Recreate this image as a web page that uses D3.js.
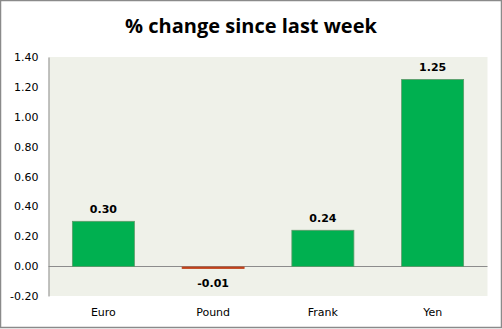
<!DOCTYPE html>
<html>
<head>
<meta charset="utf-8">
<script src="https://cdn.jsdelivr.net/npm/d3@7"></script>
<style>
  html, body { margin: 0; padding: 0; background: #fff; }
  svg { display: block; }
</style>
</head>
<body>
<script>
// Weekly % change per currency
const categories = ["Euro", "Pound", "Frank", "Yen"];
const values = [0.30, -0.01, 0.24, 1.25];
const tickValues = [-0.20, 0.00, 0.20, 0.40, 0.60, 0.80, 1.00, 1.20, 1.40];

const W = 502, H = 329;
const plot = { left: 48.5, right: 487.5, top: 57, bottom: 296 };

// two decimals with a plain hyphen for negatives
const fmt = d => d3.format(".2f")(d).replace("\u2212", "-");

const svg = d3.select("body").append("svg")
  .attr("width", W).attr("height", H);

// outer frame
svg.append("rect")
  .attr("x", 0.5).attr("y", 0.5)
  .attr("width", W - 1).attr("height", H - 2)
  .attr("fill", "#fff").attr("stroke", "#8a8a8a").attr("stroke-width", 1.5);

// title
svg.append("text")
  .attr("x", 251).attr("y", 33)
  .attr("text-anchor", "middle")
  .attr("font-family", "'Open Sans', 'DejaVu Sans', sans-serif")
  .attr("font-weight", "bold")
  .attr("font-size", 20)
  .attr("fill", "#000")
  .text("% change since last week");

const x = d3.scaleBand()
  .domain(categories)
  .range([plot.left, plot.right])
  .paddingInner(0.435)
  .paddingOuter(0.2175);

const y = d3.scaleLinear()
  .domain([-0.20, 1.40])
  .range([plot.bottom, plot.top]);

// plot background
svg.append("rect")
  .attr("x", plot.left).attr("y", plot.top)
  .attr("width", plot.right - plot.left).attr("height", plot.bottom - plot.top)
  .attr("fill", "#eff1e9");

// y axis
const yAxis = d3.axisLeft(y)
  .tickValues(tickValues)
  .tickFormat(fmt)
  .tickSize(0)
  .tickPadding(10);

const gy = svg.append("g")
  .attr("transform", `translate(${plot.left},0)`)
  .call(yAxis);
gy.select(".domain").attr("stroke", "#8c8c8c").attr("stroke-width", 1);
gy.selectAll("text")
  .attr("font-family", "Tahoma, 'DejaVu Sans', sans-serif")
  .attr("font-size", 11)
  .attr("fill", "#000");

// zero line
const y0 = Math.round(y(0)) + 0.5;
svg.append("line")
  .attr("x1", plot.left).attr("x2", plot.right)
  .attr("y1", y0).attr("y2", y0)
  .attr("stroke", "#8c8c8c").attr("stroke-width", 1);

// bars
const barColor = d => d >= 0 ? "#00b050" : "#c0431b";
const barStroke = d => d >= 0 ? "#5e9a6a" : "#c0431b";

svg.selectAll("rect.bar")
  .data(values)
  .enter().append("rect")
  .attr("class", "bar")
  .attr("x", (d, i) => x(categories[i]))
  .attr("width", x.bandwidth())
  .attr("y", d => d >= 0 ? y(d) : y0 + 0.5)
  .attr("height", d => d >= 0 ? y0 - y(d) : Math.max(1.5, y(d) - y(0)))
  .attr("fill", barColor)
  .attr("stroke", barStroke)
  .attr("stroke-width", 0.8);

// value labels
svg.selectAll("text.val")
  .data(values)
  .enter().append("text")
  .attr("class", "val")
  .attr("x", (d, i) => x(categories[i]) + x.bandwidth() / 2)
  .attr("y", d => d >= 0 ? y(d) - 8 : y(0) + 21)
  .attr("text-anchor", "middle")
  .attr("font-family", "Tahoma, 'DejaVu Sans', sans-serif")
  .attr("font-weight", "bold")
  .attr("font-size", 11)
  .attr("fill", "#000")
  .text(fmt);

// category labels
const xAxis = d3.axisBottom(x).tickSize(0).tickPadding(12);
const gx = svg.append("g")
  .attr("transform", `translate(0,${plot.bottom})`)
  .call(xAxis);
gx.select(".domain").remove();
gx.selectAll("text")
  .attr("font-family", "Tahoma, 'DejaVu Sans', sans-serif")
  .attr("font-size", 11)
  .attr("fill", "#000");
</script>
</body>
</html>
